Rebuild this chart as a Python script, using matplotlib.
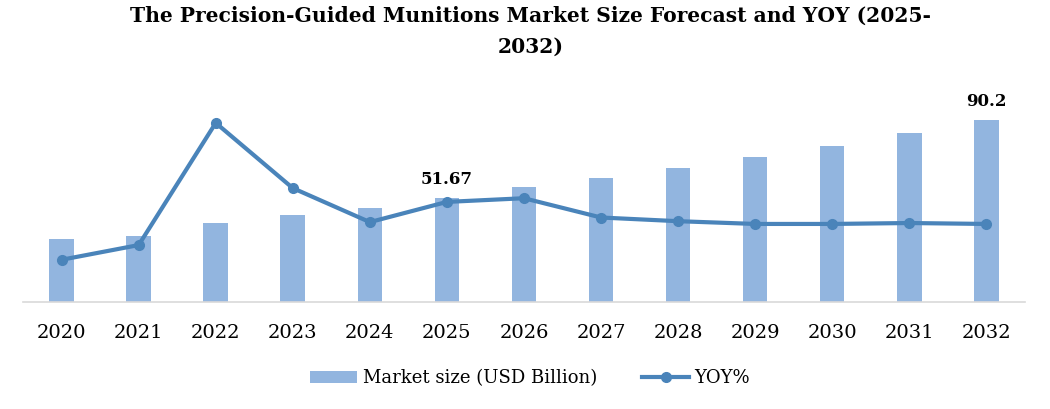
import numpy as np
import matplotlib.pyplot as plt
from matplotlib.lines import Line2D
from matplotlib.patches import Patch

# data
years = ['2020', '2021', '2022', '2023', '2024', '2025', '2026',
         '2027', '2028', '2029', '2030', '2031', '2032']
market_size = [31.2, 32.9, 39.3, 43.1, 46.6, 51.67, 57.0,
               61.5, 66.4, 71.9, 77.3, 83.8, 90.2]
yoy = [4.6, 6.2, 19.5, 12.4, 8.7, 10.9, 11.3, 9.2, 8.8, 8.5, 8.5, 8.6, 8.5]
labelled = {'2025': '51.67', '2032': '90.2'}

bar_color = '#92B5DF'
line_color = '#4A84BA'
font = 'DejaVu Serif'

fig = plt.figure(figsize=(10.5, 4.09), dpi=100)
ax = fig.add_axes([0.022, 0.2616, 0.954, 0.494])
x = np.arange(len(years))

ax.bar(x, market_size, width=0.32, color=bar_color, zorder=1)
ax.set_xlim(-0.5, len(years) - 0.5)
ax.set_ylim(0, 100)
ax.set_yticks([])
for s in ['top', 'right', 'left']:
    ax.spines[s].set_visible(False)
ax.spines['bottom'].set_color('#D9D9D9')
ax.spines['bottom'].set_linewidth(1.2)
ax.set_xticks(x)
ax.set_xticklabels(years, fontsize=14, family=font)
ax.tick_params(axis='x', length=0, pad=16)

for i, yr in enumerate(years):
    if yr in labelled:
        ax.text(i, market_size[i] + 5, labelled[yr], ha='center', va='bottom',
                fontsize=12, fontweight='bold', family=font, clip_on=False)

ax2 = ax.twinx()
ax2.plot(x, yoy, color=line_color, lw=3, marker='o', ms=7, zorder=3)
ax2.set_ylim(0, 22)
ax2.set_yticks([])
for s in ax2.spines.values():
    s.set_visible(False)

fig.text(0.505, 1 - 6 / 409,
         'The Precision-Guided Munitions Market Size Forecast and YOY (2025-\n2032)',
         ha='center', va='top', fontsize=14.6, fontweight='bold', family=font,
         linespacing=1.7)

handles = [Patch(facecolor=bar_color, label='Market size (USD Billion)'),
           Line2D([0], [0], color=line_color, lw=3, marker='o', ms=7, label='YOY%')]
fig.legend(handles=handles, loc='center', bbox_to_anchor=(0.505, 0.075), ncol=2,
           frameon=False, prop={'family': font, 'size': 13}, handlelength=2.6,
           columnspacing=2.5, handletextpad=0.3)

fig.savefig('out.png', dpi=100)
